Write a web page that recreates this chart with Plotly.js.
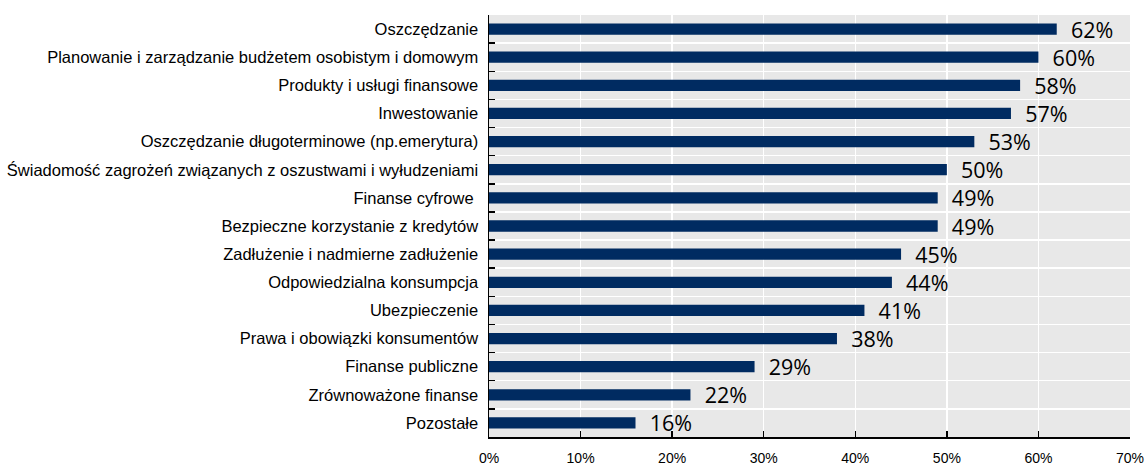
<!DOCTYPE html>
<html>
<head>
<meta charset="utf-8">
<script src="https://cdn.plot.ly/plotly-3.0.1.min.js"></script>
<style>html,body{margin:0;padding:0;background:#fff;}#chart{width:1148px;height:468px;}</style>
</head>
<body>
<div id="chart"></div>
<script>
const categories = [
  "Oszczędzanie",
  "Planowanie i zarządzanie budżetem osobistym i domowym",
  "Produkty i usługi finansowe",
  "Inwestowanie",
  "Oszczędzanie długoterminowe (np.emerytura)",
  "Świadomość zagrożeń związanych z oszustwami i wyłudzeniami",
  "Finanse cyfrowe ",
  "Bezpieczne korzystanie z kredytów",
  "Zadłużenie i nadmierne zadłużenie",
  "Odpowiedzialna konsumpcja",
  "Ubezpieczenie",
  "Prawa i obowiązki konsumentów",
  "Finanse publiczne",
  "Zrównoważone finanse",
  "Pozostałe"
];
const values = [62, 60, 58, 57, 53, 50, 49, 49, 45, 44, 41, 38, 29, 22, 16];
const tickVals = [0, 10, 20, 30, 40, 50, 60, 70];
const tickLabels = ["0%", "10%", "20%", "30%", "40%", "50%", "60%", "70%"];

const trace = {
  type: "bar",
  orientation: "h",
  y: categories,
  x: values,
  marker: {color: "#002b61"},
  text: values.map(v => "\u00a0\u00a0" + v + "%"),
  textposition: "outside",
  constraintext: "none",
  cliponaxis: false,
  textfont: {family: "Open Sans, sans-serif", size: 21.5, color: "#000"},
  hoverinfo: "none"
};

const layout = {
  width: 1148, height: 468,
  margin: {l: 489, r: 18, t: 15, b: 31},
  paper_bgcolor: "#ffffff",
  plot_bgcolor: "#e8e8e8",
  bargap: 0.6,
  showlegend: false,
  font: {family: "Liberation Sans, Arial, sans-serif", size: 16, color: "#000"},
  xaxis: {
    range: [0, 70],
    tickvals: tickVals,
    ticktext: tickLabels,
    ticks: "inside",
    ticklen: 6,
    tickwidth: 1.5,
    tickcolor: "#000",
    showline: true,
    linecolor: "#000",
    linewidth: 1.5,
    showgrid: true,
    gridcolor: "#ffffff",
    gridwidth: 1.5,
    zeroline: false,
    tickfont: {size: 14},
    ticklabelstandoff: 8,
    fixedrange: true
  },
  yaxis: {
    type: "category",
    autorange: "reversed",
    tickson: "boundaries",
    ticks: "inside",
    ticklen: 6,
    tickwidth: 1.5,
    tickcolor: "#000",
    showline: true,
    linecolor: "#000",
    linewidth: 1.5,
    showgrid: true,
    gridcolor: "#ffffff",
    gridwidth: 1.5,
    zeroline: false,
    tickfont: {size: 16.5},
    ticklabelstandoff: 6,
    fixedrange: true
  }
};

Plotly.newPlot("chart", [trace], layout, {staticPlot: true});
</script>
</body>
</html>
